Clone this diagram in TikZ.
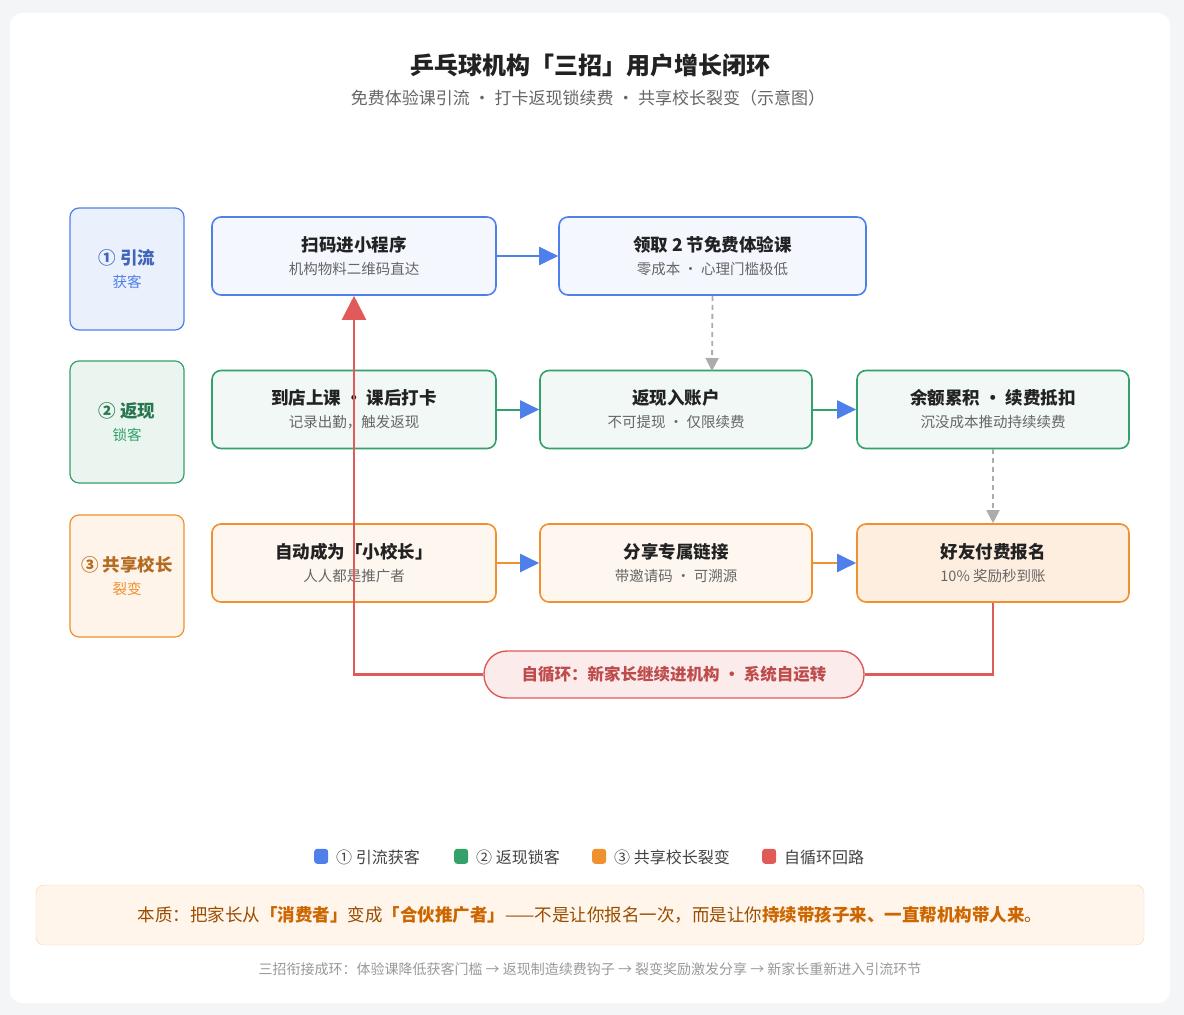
\documentclass[tikz,border=0pt]{standalone}
\usepackage{fontspec}
\setmainfont{Noto Sans CJK SC}
\usetikzlibrary{arrows.meta}
\definecolor{bgc}{HTML}{F4F5F7}
\definecolor{blu}{HTML}{4F7FEA}
\definecolor{grn}{HTML}{34A06A}
\definecolor{org}{HTML}{F0902E}
\definecolor{rd}{HTML}{E05A5A}
\definecolor{txt}{HTML}{222222}
\definecolor{sub}{HTML}{666666}
\tikzset{
  box/.style={rounded corners=9pt, line width=1.6pt, minimum height=78pt, align=center},
  lane/.style={rounded corners=9pt, line width=1.2pt, minimum width=114pt, minimum height=122pt, align=center},
  flow/.style={line width=2pt, -{Triangle[length=19pt,width=18pt,color=blu]}},
  dashflow/.style={line width=1.8pt, draw=gray!65, dash pattern=on 5pt off 4pt, -{Triangle[length=13pt,width=13pt]}},
}
\newcommand{\bx}[2]{{\fontsize{17.5}{20}\selectfont\bfseries\color{txt}#1}\\[8pt]{\fontsize{14.5}{16}\selectfont\color{sub}#2}}
\begin{document}
\begin{tikzpicture}[x=1pt, y=-1pt]
	\useasboundingbox[fill=bgc] (0,0) rectangle (1184,1015);
	\fill[white, rounded corners=12pt] (10,13) rectangle (1170,1003);
	% title
	\node (title) at (590,65) {\fontsize{24}{28}\selectfont\bfseries\color{txt}乒乓球机构「三招」用户增长闭环};
	\node (subtitle) at (588,98) {\fontsize{17}{20}\selectfont\color{sub}免费体验课引流 · 打卡返现锁续费 · 共享校长裂变（示意图）};
	% lanes
	\node[lane, draw=blu, fill=blu!12] (lane1) at (127,269) {{\fontsize{17.5}{20}\selectfont\bfseries\color{blu!80!black}① 引流}\\[8pt]{\fontsize{14.5}{16}\selectfont\color{blu}获客}};
	\node[lane, draw=grn, fill=grn!10] (lane2) at (127,422) {{\fontsize{17.5}{20}\selectfont\bfseries\color{grn!75!black}② 返现}\\[8pt]{\fontsize{14.5}{16}\selectfont\color{grn}锁客}};
	\node[lane, draw=org, fill=org!10] (lane3) at (127,576) {{\fontsize{17.5}{20}\selectfont\bfseries\color{org!75!black}③ 共享校长}\\[8pt]{\fontsize{14.5}{16}\selectfont\color{org}裂变}};
	% row 1
	\node[box, draw=blu, fill=blu!6, minimum width=284pt] (scan) at (354,256) {\bx{扫码进小程序}{机构物料二维码直达}};
	\node[box, draw=blu, fill=blu!6, minimum width=307pt] (trial) at (712.5,256) {\bx{领取 2 节免费体验课}{零成本 · 心理门槛极低}};
	% row 2
	\node[box, draw=grn, fill=grn!7, minimum width=284pt] (checkin) at (354,409.5) {\bx{到店上课 · 课后打卡}{记录出勤，触发返现}};
	\node[box, draw=grn, fill=grn!7, minimum width=272pt] (cashback) at (676,409.5) {\bx{返现入账户}{不可提现 · 仅限续费}};
	\node[box, draw=grn, fill=grn!7, minimum width=272pt] (balance) at (993,409.5) {\bx{余额累积 · 续费抵扣}{沉没成本推动持续续费}};
	% row 3
	\node[box, draw=org, fill=org!7, minimum width=284pt] (head) at (354,563) {\bx{自动成为「小校长」}{人人都是推广者}};
	\node[box, draw=org, fill=org!7, minimum width=272pt] (share) at (676,563) {\bx{分享专属链接}{带邀请码 · 可溯源}};
	\node[box, draw=org, fill=org!15, minimum width=272pt] (friend) at (993,563) {\bx{好友付费报名}{10\% 奖励秒到账}};
	% loop
	\node[draw=rd, fill=rd!12, line width=1.4pt, rounded corners=23pt, minimum width=380pt, minimum height=47pt] (loop) at (674,674.5) {\fontsize{16.5}{19}\selectfont\bfseries\color{rd!85!black}自循环：新家长继续进机构 • 系统自运转};
	% connectors
	\draw[flow, blu] (scan) -- (trial);
	\draw[flow, grn] (checkin) -- (cashback);
	\draw[flow, grn] (cashback) -- (balance);
	\draw[flow, org] (head) -- (share);
	\draw[flow, org] (share) -- (friend);
	\coordinate (t2) at (712,371);
	\draw[dashflow] (trial.south) -- (t2);
	\draw[dashflow] (balance.south) -- (friend.north);
	\draw[rd, line width=2.2pt] (friend.south) |- (loop.east);
	\draw[rd, line width=2.2pt, -{Triangle[length=24pt,width=24pt]}] (loop.west) -| (scan.south);
	% legend
	\foreach \x/\c/\t in {321/blu/① 引流获客, 461/grn/② 返现锁客, 599/org/③ 共享校长裂变, 769/rd/自循环回路}
		\node[anchor=west, inner sep=0pt] (lg\c) at (\x-7,857) {\tikz\fill[\c, rounded corners=3pt] (0,0) rectangle (14pt,15pt);\hspace{8pt}\fontsize{16}{18}\selectfont\color{txt!85}\t};
	% note
	\node[draw=orange!35, fill=orange!8, rounded corners=8pt, minimum width=1108pt, minimum height=60pt] (note) at (590,915)
		{\fontsize{17.5}{20}\selectfont\color{orange!60!black}本质：把家长从{\bfseries\color{orange!80!black}「消费者」}变成{\bfseries\color{orange!80!black}「合伙推广者」}——不是让你报名一次，而是让你{\bfseries\color{orange!80!black}持续带孩子来、一直帮机构带人来}。};
	\node (foot) at (590,969) {\fontsize{14}{16}\selectfont\color{gray!80}三招衔接成环：体验课降低获客门槛 → 返现制造续费钩子 → 裂变奖励激发分享 → 新家长重新进入引流环节};
\end{tikzpicture}
\end{document}
